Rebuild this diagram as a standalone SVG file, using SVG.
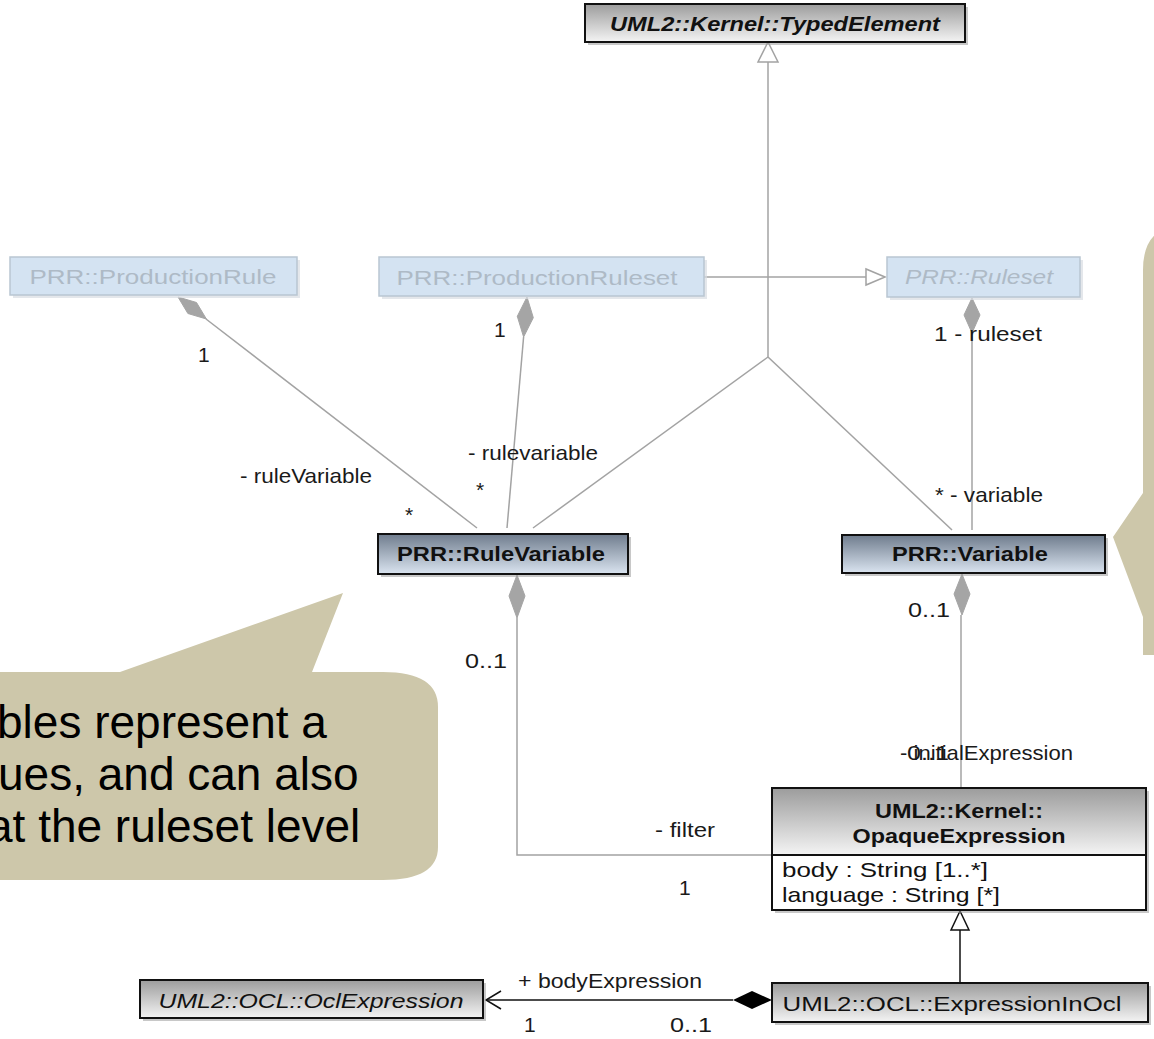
<svg xmlns="http://www.w3.org/2000/svg" width="1154" height="1039" viewBox="0 0 1154 1039">
<style>
.lbl{font-family:"Liberation Sans",Arial,sans-serif;font-size:21px;fill:#1a1a1a}
.cls{font-family:"Liberation Sans",Arial,sans-serif;font-size:21px;fill:#111}
.b{font-weight:bold}
.it{font-style:italic}
.faded{font-family:"Liberation Sans",Arial,sans-serif;font-size:21px;fill:#aebac6}
.box{stroke:#111;stroke-width:2}
.fbox{fill:#d4e3f2;stroke:#b9c6d2;stroke-width:1.5}
.shadow{fill:#9a9a9a;opacity:0.55}
.fshadow{fill:#d8dde2;opacity:0.7}
.gl{stroke:#a3a3a3;stroke-width:1.5;fill:none}
.bl{stroke:#111;stroke-width:1.5;fill:none}
.gd{fill:#a5a5a5;stroke:#a5a5a5;stroke-width:1}
.call{fill:#cdc7aa}
.big{font-family:"Liberation Sans",Arial,sans-serif;font-size:46px;fill:#000}
</style>
<defs>
<linearGradient id="gGray" x1="0" y1="0" x2="0" y2="1">
<stop offset="0" stop-color="#9c9c9c"/>
<stop offset="1" stop-color="#f4f4f4"/>
</linearGradient>
<linearGradient id="gBlue" x1="0" y1="0" x2="0" y2="1">
<stop offset="0" stop-color="#6f7c8d"/>
<stop offset="1" stop-color="#dae4f0"/>
</linearGradient>
</defs>

<!-- callouts -->
<g id="callout-left">
<path class="call" d="M-5,672 L120,672 L343,593 L312,672 L383,672 Q438,672 438,707 L438,847 Q438,880 383,880 L-5,880 Z"/>
<text class="big" x="-3" y="738">bles represent a</text>
<text class="big" x="-2" y="790">ues, and can also</text>
<text class="big" x="-13" y="842">at the ruleset level</text>
</g>
<g id="callout-right">
<path class="call" d="M1160,225 L1185,225 Q1143,225 1143,270 L1143,493 L1113,537 L1143,617 L1143,655 L1160,655 Z"/>
</g>

<!-- connectors -->
<g id="connectors">
<!-- generalization to TypedElement -->
<line class="gl" x1="768" y1="62" x2="768" y2="357"/>
<polygon points="768,42 758,62 778,62" fill="#fff" stroke="#a3a3a3" stroke-width="1.5"/>
<line class="gl" x1="768" y1="357" x2="533" y2="528"/>
<line class="gl" x1="768" y1="357" x2="952" y2="530"/>
<!-- ProductionRuleset -> Ruleset -->
<line class="gl" x1="704" y1="277" x2="866" y2="277"/>
<polygon points="885,277 866,269 866,285" fill="#fff" stroke="#a3a3a3" stroke-width="1.5"/>
<!-- ProductionRule - RuleVariable -->
<line class="gl" x1="206" y1="319" x2="477" y2="528"/>
<polygon class="gd" points="178,297 196.5,302.5 206.4,319 187.9,313.5"/>
<!-- ProductionRuleset - RuleVariable -->
<line class="gl" x1="523.6" y1="337" x2="507" y2="528"/>
<polygon class="gd" points="527,297 533.3,317.7 523.6,337 517.3,316.3"/>
<!-- Ruleset - Variable -->
<line class="gl" x1="972" y1="333" x2="972" y2="530"/>
<polygon class="gd" points="972,298 980,315 972,333 964,315"/>
<!-- Variable - OpaqueExpression -->
<line class="gl" x1="961" y1="615" x2="961" y2="788"/>
<polygon class="gd" points="962,574 970,594 962,615 954,594"/>
<!-- RuleVariable - OpaqueExpression (filter) -->
<polyline class="gl" points="517,618 517,855 772,855"/>
<polygon class="gd" points="517,575 525,596 517,618 509,596"/>
<!-- ExpressionInOcl -> OpaqueExpression -->
<line class="bl" x1="960" y1="930" x2="960" y2="983"/>
<polygon points="960,911 951,930 969,930" fill="#fff" stroke="#111" stroke-width="1.5"/>
<!-- bodyExpression -->
<line class="bl" x1="486" y1="1000" x2="733" y2="1000"/>
<polyline class="bl" points="501,991 486,1000 501,1009"/>
<polygon points="733,1000 752,991 772,1000 752,1009" fill="#000"/>

<!-- labels -->
<text class="lbl" x="198" y="362">1</text>
<text class="lbl" x="240" y="483" textLength="132" lengthAdjust="spacingAndGlyphs">- ruleVariable</text>
<text class="lbl" x="405" y="522">*</text>
<text class="lbl" x="494" y="337">1</text>
<text class="lbl" x="468" y="460" textLength="130" lengthAdjust="spacingAndGlyphs">- rulevariable</text>
<text class="lbl" x="476" y="497">*</text>
<text class="lbl" x="934" y="341" textLength="108" lengthAdjust="spacingAndGlyphs">1 - ruleset</text>
<text class="lbl" x="935" y="502" textLength="108" lengthAdjust="spacingAndGlyphs">* - variable</text>
<text class="lbl" x="908" y="617" textLength="42" lengthAdjust="spacingAndGlyphs">0..1</text>
<text class="lbl" x="465" y="668" textLength="42" lengthAdjust="spacingAndGlyphs">0..1</text>
<text class="lbl" x="900" y="760" textLength="173" lengthAdjust="spacingAndGlyphs">- initialExpression</text>
<text class="lbl" x="907" y="760" textLength="42" lengthAdjust="spacingAndGlyphs">0..1</text>
<text class="lbl" x="655" y="837" textLength="60" lengthAdjust="spacingAndGlyphs">- filter</text>
<text class="lbl" x="679" y="895">1</text>
<text class="lbl" x="518" y="988" textLength="184" lengthAdjust="spacingAndGlyphs">+ bodyExpression</text>
<text class="lbl" x="524" y="1032">1</text>
<text class="lbl" x="670" y="1032" textLength="42" lengthAdjust="spacingAndGlyphs">0..1</text>
</g>

<!-- nodes -->
<g id="typed-element">
<rect class="shadow" x="588" y="7" width="380" height="38"/>
<rect class="box" x="585" y="4" width="380" height="38" fill="url(#gGray)"/>
<text class="cls it b" x="775" y="31" text-anchor="middle" textLength="330" lengthAdjust="spacingAndGlyphs">UML2::Kernel::TypedElement</text>
</g>
<g id="production-rule">
<rect class="fshadow" x="13" y="260" width="287" height="38"/>
<rect class="fbox" x="10" y="257" width="287" height="38"/>
<text class="faded" x="153" y="284" text-anchor="middle" textLength="247" lengthAdjust="spacingAndGlyphs">PRR::ProductionRule</text>
</g>
<g id="production-ruleset">
<rect class="fshadow" x="382" y="260" width="325" height="39"/>
<rect class="fbox" x="379" y="257" width="325" height="39"/>
<text class="faded" x="537" y="285" text-anchor="middle" textLength="281" lengthAdjust="spacingAndGlyphs">PRR::ProductionRuleset</text>
</g>
<g id="ruleset">
<rect class="fshadow" x="890" y="260" width="193" height="40"/>
<rect class="fbox" x="887" y="257" width="193" height="40"/>
<text class="faded it" x="979" y="284" text-anchor="middle" textLength="148" lengthAdjust="spacingAndGlyphs">PRR::Ruleset</text>
</g>
<g id="rule-variable">
<rect class="shadow" x="381" y="537" width="250" height="40"/>
<rect class="box" x="378" y="534" width="250" height="40" fill="url(#gBlue)"/>
<text class="cls b" x="501" y="561" text-anchor="middle" textLength="208" lengthAdjust="spacingAndGlyphs">PRR::RuleVariable</text>
</g>
<g id="variable">
<rect class="shadow" x="845" y="538" width="263" height="38"/>
<rect class="box" x="842" y="535" width="263" height="38" fill="url(#gBlue)"/>
<text class="cls b" x="970" y="561" text-anchor="middle" textLength="156" lengthAdjust="spacingAndGlyphs">PRR::Variable</text>
</g>
<g id="opaque-expression">
<rect class="shadow" x="775" y="791" width="374" height="122"/>
<rect class="box" x="772" y="788" width="374" height="67" fill="url(#gGray)"/>
<rect class="box" x="772" y="855" width="374" height="55" fill="#fff"/>
<text class="cls b" x="959" y="818" text-anchor="middle" textLength="168" lengthAdjust="spacingAndGlyphs">UML2::Kernel::</text>
<text class="cls b" x="959" y="843" text-anchor="middle" textLength="213" lengthAdjust="spacingAndGlyphs">OpaqueExpression</text>
<text class="cls" x="782" y="877" textLength="206" lengthAdjust="spacingAndGlyphs">body : String [1..*]</text>
<text class="cls" x="782" y="902" textLength="218" lengthAdjust="spacingAndGlyphs">language : String [*]</text>
</g>
<g id="expression-in-ocl">
<rect class="shadow" x="775" y="986" width="376" height="39"/>
<rect class="box" x="772" y="983" width="376" height="39" fill="url(#gGray)"/>
<text class="cls" x="952" y="1011" text-anchor="middle" font-size="23" textLength="339" lengthAdjust="spacingAndGlyphs">UML2::OCL::ExpressionInOcl</text>
</g>
<g id="ocl-expression">
<rect class="shadow" x="143" y="983" width="343" height="38"/>
<rect class="box" x="140" y="980" width="343" height="38" fill="url(#gGray)"/>
<text class="cls it" x="311" y="1008" text-anchor="middle" font-size="23" textLength="305" lengthAdjust="spacingAndGlyphs">UML2::OCL::OclExpression</text>
</g>
</svg>
